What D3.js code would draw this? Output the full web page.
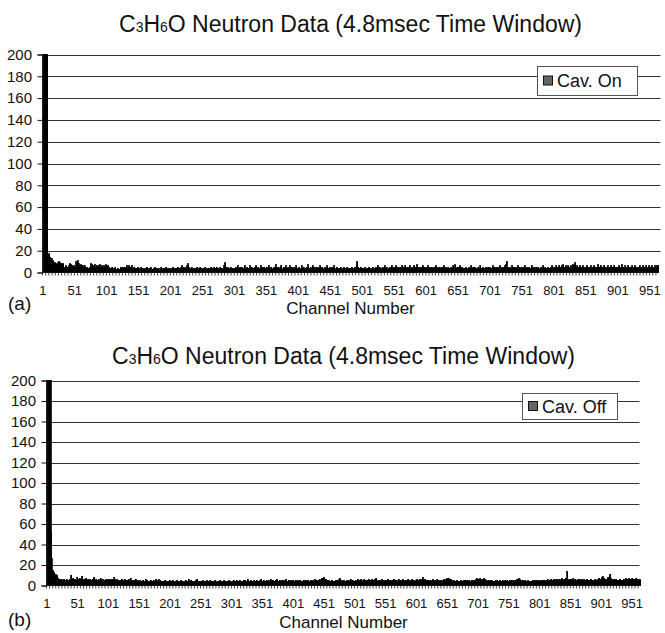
<!DOCTYPE html>
<html>
<head>
<meta charset="utf-8">
<script src="https://cdn.jsdelivr.net/npm/d3@7/dist/d3.min.js"></script>
<style>
  body { margin: 0; background: #fff; }
  text { font-family: "Liberation Sans", Arial, sans-serif; fill: #111; }
</style>
</head>
<body>
<svg id="chart" width="665" height="633"></svg>
<script>
// counts per channel (values above 200 are clipped by the axis)
var cavOnCounts = [
  200,200,200,200,200,200,200,200,16,15,17,14,13,12,13,11,10,9,8,9,7,8,6,7,9,10,8,9,7,8,7,6,8,5,5,4,6,5,3,5,4,6,8,6,7,5,6,5,4,6,
  3,5,10,7,11,6,8,6,5,7,4,6,6,5,4,6,5,4,3,5,4,2,4,3,5,8,5,7,5,6,4,7,5,3,6,5,4,6,5,7,4,5,3,6,5,4,6,3,5,7,
  5,6,4,3,5,2,4,3,5,4,2,3,4,5,3,3,2,4,3,1,3,2,5,4,3,5,4,2,5,3,4,6,3,4,5,6,4,5,3,6,4,3,2,5,4,3,1,4,3,5,
  2,3,4,2,5,3,4,1,3,2,4,3,5,2,4,3,2,4,3,5,2,3,1,4,3,2,5,3,4,2,3,4,2,1,3,5,3,2,4,3,2,4,3,5,2,3,4,2,3,4,
  3,2,4,3,5,2,4,3,2,4,3,5,2,4,3,4,5,3,6,4,5,3,4,2,5,4,6,8,5,3,4,2,3,5,3,2,4,3,2,4,3,5,2,3,4,2,5,3,4,2,
  3,4,2,3,5,2,4,3,1,4,3,2,4,5,3,2,4,3,5,2,4,3,5,2,4,3,2,5,3,4,4,3,2,4,6,9,5,4,3,5,3,2,4,3,5,2,4,3,2,4,
  4,3,5,2,4,6,3,4,2,5,3,4,5,3,2,4,6,3,4,3,5,2,4,3,6,4,3,5,2,4,3,5,4,2,6,3,4,5,3,2,4,6,3,5,4,2,5,3,4,3,
  5,3,4,6,2,4,3,5,4,3,2,4,5,3,7,4,3,5,2,4,3,5,4,6,3,2,4,5,3,4,6,3,4,2,5,3,4,6,3,5,4,2,3,5,4,3,6,4,2,3,
  4,5,3,2,4,6,3,4,5,3,2,4,3,5,4,7,3,4,2,5,3,4,6,3,5,2,4,3,5,4,3,5,2,4,6,3,4,5,3,2,4,3,5,4,2,6,3,4,3,5,
  3,4,2,5,3,4,6,3,2,4,5,3,4,2,4,3,5,4,3,2,4,5,3,4,2,3,5,4,3,4,2,4,3,5,4,3,2,4,5,3,4,6,10,5,3,4,2,5,3,4,
  3,4,2,3,5,4,3,2,4,3,5,3,4,2,3,4,5,3,2,4,3,5,4,3,6,4,3,5,4,3,4,2,5,3,4,6,3,4,5,3,2,4,3,5,4,3,6,4,3,5,
  4,3,5,6,4,3,5,4,2,5,3,4,6,3,5,4,3,6,4,3,5,4,3,5,6,3,4,2,5,4,3,6,4,5,3,4,7,3,4,5,4,3,5,4,6,3,4,5,3,4,
  5,3,4,6,3,5,4,3,5,4,3,4,5,3,4,6,4,3,5,3,4,5,3,4,2,5,4,6,3,4,5,3,4,3,5,4,2,4,3,5,4,3,6,4,3,7,4,3,5,4,
  3,5,4,6,3,4,5,3,4,2,4,3,5,4,3,2,4,5,3,4,6,4,3,5,4,3,5,4,2,4,3,5,4,3,6,4,3,4,5,3,4,2,4,3,5,4,3,5,4,3,
  5,4,3,4,6,3,5,4,3,5,4,3,5,4,3,6,4,3,4,5,3,4,5,6,4,7,10,5,4,3,4,5,3,4,6,3,4,5,3,4,5,3,4,6,4,3,5,4,3,5,
  4,3,5,4,6,3,4,5,3,4,3,5,4,3,4,6,3,4,5,3,4,3,5,4,3,5,4,2,4,3,5,4,3,6,4,3,5,3,4,2,4,5,3,4,3,5,4,6,3,4,
  5,4,3,6,4,5,3,4,6,4,5,4,6,5,7,4,5,3,6,4,5,4,6,3,5,4,6,5,4,7,5,6,4,9,5,4,6,3,5,4,6,4,5,3,4,6,5,4,3,5,
  4,6,3,5,4,3,5,6,4,3,5,4,3,6,4,5,3,4,5,7,4,5,3,6,4,3,5,4,6,3,5,4,3,5,6,4,3,5,4,6,4,3,5,4,6,3,5,4,3,5,
  4,5,6,4,3,5,7,4,5,3,4,6,3,5,4,3,6,4,5,3,5,4,6,3,4,5,3,6,4,5,3,4,5,3,6,4,5,3,4,6,4,5,3,4,6,4,3,5,4,6,
  5,4,3,6,4,5,3,4,6,4,5,6,4,6
];
var cavOffCounts = [
  200,200,200,200,200,200,200,52,26,15,14,12,13,10,11,9,8,10,7,6,5,6,4,5,6,3,5,4,6,5,3,4,6,5,4,3,5,6,4,10,6,4,5,7,5,3,6,4,5,8,
  5,6,4,7,5,6,4,9,6,5,4,6,5,3,7,5,4,6,5,4,6,3,5,4,6,5,7,8,5,4,6,4,5,3,6,4,5,7,4,5,3,6,4,5,4,6,3,5,4,6,
  4,5,3,6,4,5,6,4,5,8,6,4,5,3,6,4,5,4,3,5,4,6,3,5,4,3,6,4,5,3,5,4,3,6,4,5,7,4,3,5,4,3,5,4,6,3,4,5,3,4,
  3,5,4,2,4,3,5,4,3,4,6,3,4,5,3,2,4,3,5,4,3,4,2,5,3,4,3,6,5,4,3,6,4,3,5,2,4,3,4,2,4,3,5,2,4,3,2,4,3,5,
  3,2,4,3,5,2,4,3,2,4,3,5,2,4,3,2,4,3,5,2,4,3,2,4,3,5,2,4,3,4,6,3,4,2,5,3,4,2,3,4,3,5,2,4,6,3,4,2,3,4,
  2,4,3,5,2,3,4,2,3,5,3,2,4,3,2,5,3,4,2,3,4,2,3,5,3,2,4,3,2,4,3,5,2,4,3,2,4,3,5,2,4,3,2,4,3,5,2,4,3,2,
  3,4,2,5,3,4,2,3,5,4,2,4,3,5,4,3,2,4,3,5,4,3,5,2,4,3,6,4,3,2,4,5,3,4,2,3,5,4,3,4,5,3,4,2,4,3,5,4,6,3,
  4,3,5,4,2,4,3,5,4,3,5,4,3,6,4,3,5,4,2,4,3,5,4,3,6,4,3,4,5,3,4,2,5,4,3,5,4,3,6,4,3,4,5,3,4,2,5,4,3,4,
  5,3,4,2,5,4,3,5,4,3,4,5,3,4,2,4,3,5,4,3,5,4,3,4,5,3,4,2,4,5,3,4,5,3,4,6,4,3,5,4,4,5,3,6,5,4,6,7,6,8,
  7,6,5,6,4,5,3,4,5,3,4,3,5,4,3,4,2,4,3,5,4,5,3,4,6,7,5,4,3,5,3,4,5,3,4,2,4,5,3,4,5,3,4,6,4,3,5,4,3,4,
  3,5,4,3,6,4,3,5,4,5,6,4,3,5,4,6,3,5,4,3,5,4,6,3,4,5,3,4,6,4,5,3,4,6,7,5,4,3,5,4,3,5,4,3,6,4,5,3,4,5,
  4,3,5,4,6,3,4,5,3,4,5,4,3,6,4,5,3,4,5,3,4,6,3,5,4,3,5,4,6,3,4,5,3,4,5,3,6,4,3,5,4,3,5,6,4,3,5,4,3,5,
  4,6,3,5,4,5,6,4,5,6,8,6,5,4,6,3,5,4,3,5,4,3,5,4,3,5,4,6,3,4,5,3,4,6,4,3,5,4,3,5,4,5,3,4,6,4,5,3,6,7,
  5,6,7,4,5,6,4,5,3,4,3,5,4,3,4,5,3,4,2,4,3,4,5,3,4,3,5,4,3,5,4,3,5,4,3,5,4,3,4,5,3,4,5,4,3,5,4,6,7,5,
  4,6,5,7,4,5,6,3,5,7,5,6,4,5,3,4,5,3,4,5,3,4,5,3,4,2,4,3,5,4,3,5,4,3,4,5,3,4,2,4,5,3,4,3,5,4,3,5,4,3,
  4,5,3,4,5,3,4,5,3,4,5,3,4,6,5,4,7,6,4,5,3,4,5,3,4,3,5,4,3,4,3,5,4,3,4,2,4,3,5,4,3,4,5,3,4,5,3,4,3,5,
  4,3,5,4,3,5,4,3,5,4,3,5,4,6,4,3,5,4,6,5,4,5,6,4,5,3,6,5,4,6,5,4,6,5,4,7,5,6,4,5,6,5,7,6,14,6,5,4,6,5,
  4,6,5,4,7,5,4,6,5,4,5,6,4,5,3,6,4,5,4,6,5,4,6,3,5,4,5,6,4,5,4,5,3,6,4,5,4,3,5,4,6,4,5,4,6,5,7,6,5,6,
  7,8,9,6,7,5,6,4,5,6,7,8,6,9,11,7,6,5,6,4,5,6,4,5,6,4,5,3,5,4,6,4,5,3,4,5,6,4,5,6,7,5,6,4,6,7,5,6,4,6,
  7,5,6,4,6,5,7,6,5,6,4,5,6,5
];
var yTicks = [0, 20, 40, 60, 80, 100, 120, 140, 160, 180, 200];
var xTickLabels = ["1","51","101","151","201","251","301","351","401","451","501","551","601","651","701","751","801","851","901","951"];
var titleText = ["C", "3", "H", "6", "O Neutron Data (4.8msec Time Window)"];

var svg = d3.select("#chart");

var panels = [
  {data: cavOnCounts, legend: "Cav. On", tag: "(a)",
   left: 42.5, right: 658.5, top: 54.5, bottom: 272.5, gridRight: 660.5, labelRight: 32,
   titleY: 32, tickY: 295, tagY: 310, axisTitleY: 314,
   lg: {x: 537, y: 66, w: 100, h: 29}},
  {data: cavOffCounts, legend: "Cav. Off", tag: "(b)",
   left: 46.5, right: 640.5, top: 380.5, bottom: 585.5, gridRight: 639.5, labelRight: 36,
   titleY: 364, tickY: 608, tagY: 626, axisTitleY: 628,
   lg: {x: 522, y: 393, w: 95, h: 26}}
];

panels.forEach(function(p){
  var channels = d3.range(1, p.data.length + 1);
  var x = d3.scaleBand().domain(channels).range([p.left, p.right]).padding(0);
  var y = d3.scaleLinear().domain([0, 200]).range([p.bottom, p.top]).clamp(true);
  var g = svg.append("g");

  // gridlines
  g.selectAll(".grid").data(yTicks.filter(function(d){ return d > 0; }))
    .enter().append("line")
    .attr("x1", p.left).attr("x2", p.gridRight)
    .attr("y1", function(d){ return Math.round(y(d)) + 0.5; })
    .attr("y2", function(d){ return Math.round(y(d)) + 0.5; })
    .attr("stroke", "#333").attr("stroke-width", 1);

  // bars (black outline like the original columns)
  g.selectAll(".bar").data(p.data)
    .enter().append("rect")
    .attr("x", function(d, i){ return x(channels[i]); })
    .attr("width", Math.max(x.bandwidth(), 1))
    .attr("y", function(d){ return y(d); })
    .attr("height", function(d){ return p.bottom - y(d); })
    .attr("fill", "#000")
    .attr("stroke", "#000").attr("stroke-width", 0.8)
    .attr("shape-rendering", "crispEdges");

  // y axis
  var yAxis = d3.axisLeft(y).tickValues(yTicks).tickSize(5).tickPadding(p.left - 5 - p.labelRight);
  var ya = g.append("g").attr("transform", "translate(" + p.left + ",0)").call(yAxis);
  ya.selectAll("text").style("font-size", "15px").attr("fill", "#111");
  ya.selectAll("line, path").attr("stroke", "#111");

  // x axis line + small ticks every 5 channels
  g.append("line").attr("x1", p.left).attr("x2", p.right)
    .attr("y1", p.bottom).attr("y2", p.bottom).attr("stroke", "#111");
  g.selectAll(".xt").data(channels.filter(function(c){ return (c - 1) % 5 == 0; }))
    .enter().append("line")
    .attr("x1", function(c){ return x(c); }).attr("x2", function(c){ return x(c); })
    .attr("y1", p.bottom).attr("y2", p.bottom + 3)
    .attr("stroke", "#111").attr("stroke-width", 0.8);

  g.selectAll(".xl").data(xTickLabels)
    .enter().append("text")
    .attr("x", function(d){ return x(+d) + x.bandwidth() / 2; })
    .attr("y", p.tickY)
    .attr("text-anchor", "middle")
    .style("font-size", "13px")
    .text(function(d){ return d; });

  // title
  var t = g.append("text")
    .attr("x", (p.left + p.right) / 2).attr("y", p.titleY)
    .attr("text-anchor", "middle").style("font-size", "23px");
  titleText.forEach(function(s, i){
    t.append("tspan").style("font-size", i % 2 ? "14px" : "23px").text(s);
  });

  g.append("text").attr("x", (p.left + p.right) / 2).attr("y", p.axisTitleY)
    .attr("text-anchor", "middle").style("font-size", "17px").text("Channel Number");
  g.append("text").attr("x", 8).attr("y", p.tagY)
    .style("font-size", "19px").text(p.tag);

  // legend
  var lg = g.append("g").attr("transform", "translate(" + p.lg.x + "," + p.lg.y + ")");
  lg.append("rect").attr("x", 0.5).attr("y", 0.5).attr("width", p.lg.w).attr("height", p.lg.h)
    .attr("fill", "#fff").attr("stroke", "#555");
  lg.append("rect").attr("x", 6.5).attr("y", p.lg.h / 2 - 4.5).attr("width", 9).attr("height", 9)
    .attr("fill", "#666").attr("stroke", "#111");
  lg.append("text").attr("x", 20).attr("y", p.lg.h / 2 + 6.5)
    .style("font-size", "18px").text(p.legend);
});
</script>
</body>
</html>
